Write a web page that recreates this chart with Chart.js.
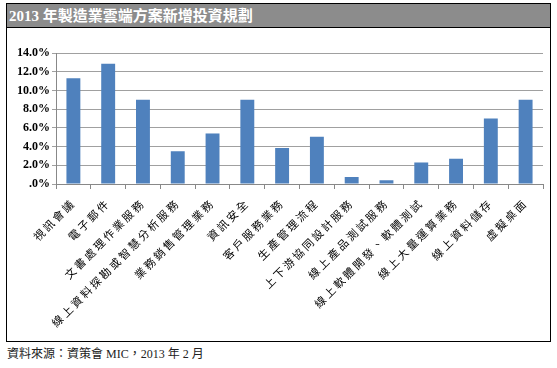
<!DOCTYPE html>
<html>
<head>
<meta charset="utf-8">
<script src="https://cdn.jsdelivr.net/npm/chart.js@4.4.0/dist/chart.umd.min.js"></script>
<style>
  body { margin: 0; background: #fff; width: 557px; height: 368px; position: relative; overflow: hidden; }
  #box { position: absolute; left: 6px; top: 3px; width: 543px; height: 337px; border: 1px solid #000; }
  #title { position: absolute; left: 0; top: 0; width: 543px; height: 24px; background: #8c8c8c; border-bottom: 1px solid #000;
    color: #fff; font: bold 15px "Liberation Serif", "Noto Sans CJK TC", serif; line-height: 24px; padding-left: 2px; box-sizing: border-box; }
  #wrap { position: absolute; left: 1px; top: 26px; width: 543px; height: 311px; }
  #source { position: absolute; left: 7px; top: 344px; font: 12px "Liberation Serif", "Noto Sans CJK TC", serif; color: #222; }
</style>
</head>
<body>
<div id="box">
  <div id="title">2013 年製造業雲端方案新增投資規劃</div>
  <div id="wrap"><canvas id="chart" width="543" height="311"></canvas></div>
</div>
<div id="source">資料來源：資策會 MIC，2013 年 2 月</div>
<script>
// ===== Data =====
const categories = ["視訊會議", "電子郵件", "文書處理作業服務", "線上資料探勘或智慧分析服務", "業務銷售管理業務",
  "資訊安全", "客戶服務業務", "生產管理流程", "上下游協同設計服務", "線上產品測試服務",
  "線上軟體開發、軟體測試", "線上大量運算業務", "線上資料儲存", "虛擬桌面"];
const shares = [11.3, 12.85, 9.0, 3.5, 5.4, 9.0, 3.85, 5.05, 0.75, 0.4, 2.3, 2.7, 7.0, 9.0];
const yTicks = [0, 2, 4, 6, 8, 10, 12, 14];

// wider spacing for the rotated category labels
const spacedLabels = {
  id: "spacedLabels",
  afterLayout(chart) {
    const x = chart.scales.x;
    if (x._spaced) return;
    const orig = x.drawLabels.bind(x);
    x.drawLabels = (area) => {
      chart.ctx.save();
      chart.ctx.letterSpacing = "2.5px";
      orig(area);
      chart.ctx.restore();
    };
    x._spaced = true;
  }
};

const ctx = document.getElementById("chart").getContext("2d");
new Chart(ctx, {
  type: "bar",
  data: {
    labels: categories,
    datasets: [{
      data: shares,
      backgroundColor: "#4f81bd",
      barPercentage: 0.4,
      categoryPercentage: 1.0
    }]
  },
  options: {
    responsive: false,
    animation: false,
    layout: { padding: { top: 23, right: 8, left: 0, bottom: 0 } },
    plugins: { legend: { display: false }, tooltip: { enabled: false } },
    scales: {
      x: {
        grid: { drawOnChartArea: false, color: "#888", tickLength: 5, offset: true },
        border: { color: "#888" },
        ticks: {
          autoSkip: false, maxRotation: 45, minRotation: 45,
          color: "#000", font: { family: "Noto Sans CJK TC", size: 11 }, padding: 7
        },
        afterFit: (s) => { s.height = 157; }
      },
      y: {
        min: 0, max: 14,
        afterBuildTicks: (s) => { s.ticks = yTicks.map(v => ({ value: v })); },
        grid: { color: "#a0a0a0", tickLength: 4 },
        border: { color: "#888" },
        ticks: {
          color: "#000", padding: 2,
          font: { family: "Liberation Serif", size: 12, weight: "bold" },
          callback: (v) => v === 0 ? ".0%" : v.toFixed(1) + "%"
        },
        afterFit: (s) => { s.width = 48; }
      }
    }
  },
  plugins: [spacedLabels]
});
</script>
</body>
</html>
